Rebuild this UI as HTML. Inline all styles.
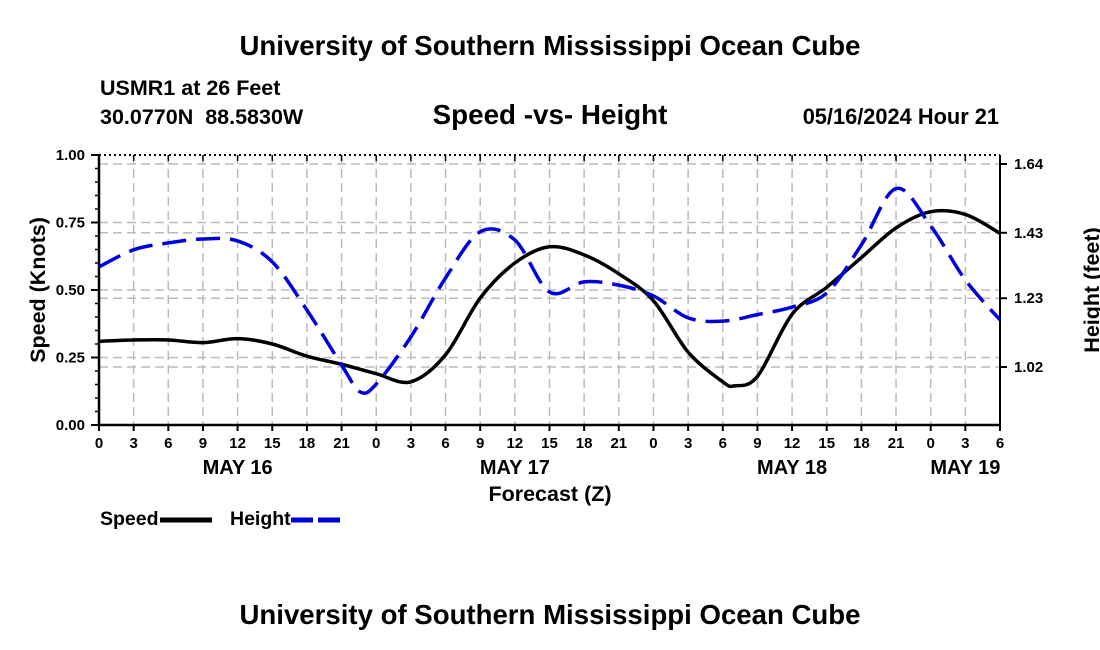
<!DOCTYPE html>
<html><head><meta charset="utf-8"><style>
body{margin:0;background:#fff}
svg{display:block;font-family:"Liberation Sans",Arial,sans-serif;font-weight:bold}
</style></head><body>
<svg id="chart" width="1100" height="650" viewBox="0 0 1100 650">
<text x="550" y="55" text-anchor="middle" font-size="27.6">University of Southern Mississippi Ocean Cube</text>
<text x="100" y="95" font-size="21.5">USMR1 at 26 Feet</text>
<text x="100" y="124" font-size="21.5" xml:space="preserve">30.0770N  88.5830W</text>
<text x="550" y="124" text-anchor="middle" font-size="27.8">Speed -vs- Height</text>
<text x="999" y="124" text-anchor="end" font-size="21.8">05/16/2024 Hour 21</text>
<g id="grid"></g>
<g id="axes"></g>
<g id="series"></g>
<text transform="translate(45,290) rotate(-90)" text-anchor="middle" font-size="21.5">Speed (Knots)</text>
<text transform="translate(1099,290) rotate(-90)" text-anchor="middle" font-size="21.5">Height (feet)</text>
<text x="550" y="501" text-anchor="middle" font-size="21.5">Forecast (Z)</text>
<g>
<text x="100" y="525" font-size="19.5">Speed</text>
<line x1="160" y1="520" x2="212" y2="520" stroke="#000" stroke-width="5"/>
</g>
<g>
<text x="230" y="525" font-size="19.5">Height</text>
<line x1="291" y1="520" x2="343" y2="520" stroke="#0000dd" stroke-width="5" stroke-dasharray="22,5"/>
</g>
<text x="550" y="624" text-anchor="middle" font-size="27.6">University of Southern Mississippi Ocean Cube</text>
</svg>
<script>
const hours=[0,3,6,9,12,15,18,21,24,27,30,33,36,39,42,45,48,51,54,57,60,63,66,69,72,75,78];
const speedHours=[0,3,6,9,12,15,18,21,24,27,30,33,36,39,42,45,48,51,54,55,57,60,63,66,69,72,75,78];
const speedValues=[0.31,0.315,0.315,0.305,0.32,0.30,0.255,0.225,0.19,0.16,0.26,0.47,0.60,0.66,0.63,0.56,0.46,0.27,0.16,0.145,0.18,0.41,0.51,0.62,0.73,0.79,0.78,0.71];
const heightHours=[0,3,6,9,12,15,18,21,22.6,24,27,30,33,36,39,42,45,48,51,54,57,60,63,66,69,72,75,78];
const heightValues=[1.326,1.378,1.399,1.411,1.405,1.341,1.194,1.026,0.944,0.968,1.112,1.292,1.433,1.408,1.249,1.28,1.27,1.237,1.17,1.16,1.18,1.203,1.246,1.393,1.565,1.451,1.286,1.164];
const xLabels=["0","3","6","9","12","15","18","21","0","3","6","9","12","15","18","21","0","3","6","9","12","15","18","21","0","3","6"];
const dayLabels=["MAY 16","MAY 17","MAY 18","MAY 19"];
const dayHours=[12,36,60,75];
const leftTicks=[0,0.25,0.5,0.75,1.0];
const rightTicks=[1.02,1.23,1.43,1.64];
const X0=99,X1=1000,Y0=425,Y1=155;
const x=h=>X0+(X1-X0)*h/78;
const yL=v=>Y0-(Y0-Y1)*v;
const yR=v=>367-(v-1.02)*327.4;
const NS="http://www.w3.org/2000/svg";
function mk(p,t,a){const e=document.createElementNS(NS,t);for(const k in a)e.setAttribute(k,a[k]);p.appendChild(e);return e;}
const grid=document.getElementById('grid'),axes=document.getElementById('axes'),ser=document.getElementById('series');
const gs={stroke:"#bbb","stroke-width":1.5,"stroke-dasharray":"9,5"};
hours.forEach((h,i)=>{if(i>0&&i<hours.length-1){const l=mk(grid,'line',Object.assign({x1:x(h),x2:x(h),y1:Y1,y2:Y0},gs));

}});
leftTicks.forEach(v=>{if(v>0&&v<1){const l=mk(grid,'line',Object.assign({x1:X0,x2:X1,y1:yL(v),y2:yL(v)},gs));

}});
rightTicks.forEach(v=>{const l=mk(grid,'line',Object.assign({x1:X0,x2:X1,y1:yR(v),y2:yR(v)},gs));

});
mk(axes,'line',{x1:X0,x2:X1,y1:Y1,y2:Y1,stroke:"#000","stroke-width":2,"stroke-dasharray":"2,3"});
mk(axes,'line',{x1:X0,x2:X1,y1:Y0,y2:Y0,stroke:"#000","stroke-width":2.5});
mk(axes,'line',{x1:X0,x2:X0,y1:Y1,y2:Y0,stroke:"#000","stroke-width":2.5});
mk(axes,'line',{x1:X1,x2:X1,y1:Y1,y2:Y0,stroke:"#000","stroke-width":2});
hours.forEach((h,i)=>{mk(axes,'line',{x1:x(h),x2:x(h),y1:Y0,y2:Y0+6,stroke:"#000","stroke-width":2});
mk(axes,'line',{x1:x(h),x2:x(h),y1:Y1,y2:Y1+6,stroke:"#000","stroke-width":1.5});
const t=mk(axes,'text',{x:x(h),y:Y0+23,"text-anchor":"middle","font-size":15});t.textContent=xLabels[i];

});
dayLabels.forEach((d,i)=>{const t=mk(axes,'text',{x:x(dayHours[i]),y:Y0+49,"text-anchor":"middle","font-size":20});t.textContent=d;

});
for(let v=0;v<=1.0001;v+=0.05){mk(axes,'line',{x1:X0-4,x2:X0,y1:yL(v),y2:yL(v),stroke:"#000","stroke-width":1.5});}
leftTicks.forEach(v=>{mk(axes,'line',{x1:X0-8,x2:X0,y1:yL(v),y2:yL(v),stroke:"#000","stroke-width":2});
const t=mk(axes,'text',{x:X0-14,y:yL(v)+5,"text-anchor":"end","font-size":15});t.textContent=v.toFixed(2);

});
rightTicks.forEach(v=>{mk(axes,'line',{x1:X1,x2:X1+7,y1:yR(v),y2:yR(v),stroke:"#000","stroke-width":2});
const t=mk(axes,'text',{x:X1+14,y:yR(v)+5,"font-size":15});t.textContent=v.toFixed(2);

});
function smooth(pts){let d="M"+pts[0][0]+","+pts[0][1];
for(let i=0;i<pts.length-1;i++){const p0=pts[i-1]||pts[i],p1=pts[i],p2=pts[i+1],p3=pts[i+2]||p2;
d+=" C"+(p1[0]+(p2[0]-p0[0])/6)+","+(p1[1]+(p2[1]-p0[1])/6)+" "+(p2[0]-(p3[0]-p1[0])/6)+","+(p2[1]-(p3[1]-p1[1])/6)+" "+p2[0]+","+p2[1];}
return d;}
const sp=mk(ser,'path',{d:smooth(speedHours.map((h,i)=>[x(h),yL(speedValues[i])])),fill:"none",stroke:"#000","stroke-width":3.5});


const hp=mk(ser,'path',{d:smooth(heightHours.map((h,i)=>[x(h),yR(heightValues[i])])),fill:"none",stroke:"#0000dd","stroke-width":3.5,"stroke-dasharray":"24,10"});


</script>
</body></html>
